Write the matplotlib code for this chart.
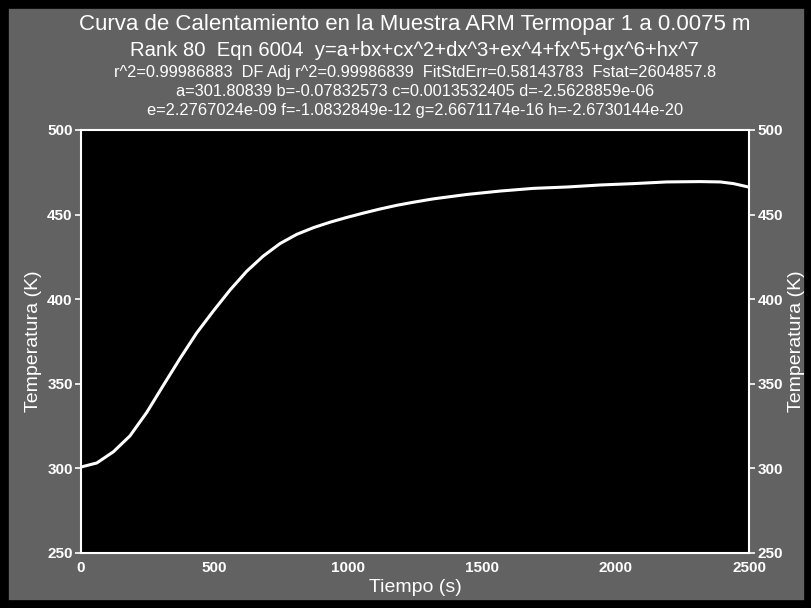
"""
Curva de calentamiento (TableCurve style): temperatura vs tiempo, ARM termopar 1.
"""
import matplotlib.pyplot as plt
from matplotlib.patches import Rectangle

# values
tiempo = [0, 59, 121, 183, 246, 308, 371, 433, 495, 558, 620, 682, 745, 807,
          870, 932, 994, 1057, 1119, 1182, 1244, 1319, 1444, 1568, 1693, 1818,
          1943, 2067, 2192, 2317, 2392, 2442, 2498]
temperatura = [300.8, 303.2, 309.8, 319.2, 333.1, 349.1, 365.1, 380.1, 393.0,
               405.5, 416.5, 425.5, 432.9, 438.3, 442.3, 445.5, 448.3, 450.9,
               453.3, 455.5, 457.3, 459.3, 461.9, 463.9, 465.5, 466.3, 467.5,
               468.3, 469.3, 469.5, 469.3, 468.3, 466.3]

x_ticks = [0, 500, 1000, 1500, 2000, 2500]
y_ticks = [250, 300, 350, 400, 450, 500]

header = [
    "Curva de Calentamiento en la Muestra ARM Termopar 1 a 0.0075 m",
    "Rank 80  Eqn 6004  y=a+bx+cx^2+dx^3+ex^4+fx^5+gx^6+hx^7",
    "r^2=0.99986883  DF Adj r^2=0.99986839  FitStdErr=0.58143783  Fstat=2604857.8",
    "a=301.80839 b=-0.07832573 c=0.0013532405 d=-2.5628859e-06",
    "e=2.2767024e-09 f=-1.0832849e-12 g=2.6671174e-16 h=-2.6730144e-20",
]

BG = '#626262'
plt.rcParams['font.family'] = ['Liberation Sans', 'DejaVu Sans']

fig = plt.figure(figsize=(8.12, 6.08), dpi=100, facecolor=BG)
fig.patches.append(Rectangle((0, 0), 1, 1, transform=fig.transFigure,
                             fill=False, edgecolor='black', linewidth=12))

ax = fig.add_axes([0.0998, 0.0905, 0.8227, 0.6957], facecolor='black')
ax.plot(tiempo, temperatura, color='white', linewidth=2.2,
        solid_capstyle='butt')
ax.set_xlim(0, 2500)
ax.set_ylim(250, 500)
ax.set_xticks(x_ticks)
ax.set_yticks(y_ticks)
for s in ax.spines.values():
    s.set_color('white')
    s.set_linewidth(1.5)
ax.tick_params(colors='white', labelsize=11, length=4, width=1.2, pad=2)
ax.tick_params(axis='x', length=0, pad=6)
for lab in ax.get_xticklabels() + ax.get_yticklabels():
    lab.set_fontweight('bold')
ax.set_xlabel('Tiempo (s)', color='white', fontsize=14, labelpad=3)
ax.set_ylabel('Temperatura (K)', color='white', fontsize=14, labelpad=4)

ax2 = ax.twinx()
ax2.set_ylim(250, 500)
ax2.set_yticks(y_ticks)
for s in ax2.spines.values():
    s.set_visible(False)
ax2.tick_params(colors='white', labelsize=11, length=4, width=1.2, pad=2)
for lab in ax2.get_yticklabels():
    lab.set_fontweight('bold')
ax2.set_ylabel('Temperatura (K)', color='white', fontsize=14, rotation=90, labelpad=4)

# header lines, baselines measured in pixels from the top
baselines = [30, 56, 77, 96, 115]
sizes = [16, 14.6, 11.8, 11.8, 11.8]
for txt, yb, fs in zip(header, baselines, sizes):
    fig.text(0.511, 1 - yb / 608, txt, ha='center', va='baseline',
             color='white', fontsize=fs)

plt.savefig('out.png', dpi=100, facecolor=BG)
